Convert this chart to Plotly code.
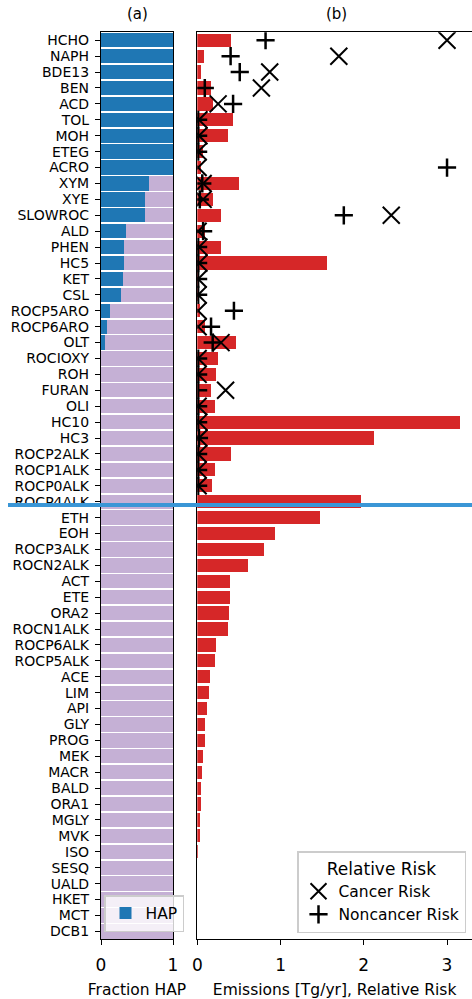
import plotly.graph_objects as go

species = ["HCHO", "NAPH", "BDE13", "BEN", "ACD", "TOL", "MOH", "ETEG", "ACRO", "XYM",
           "XYE", "SLOWROC", "ALD", "PHEN", "HC5", "KET", "CSL", "ROCP5ARO", "ROCP6ARO", "OLT",
           "ROCIOXY", "ROH", "FURAN", "OLI", "HC10", "HC3", "ROCP2ALK", "ROCP1ALK", "ROCP0ALK", "ROCP4ALK",
           "ETH", "EOH", "ROCP3ALK", "ROCN2ALK", "ACT", "ETE", "ORA2", "ROCN1ALK", "ROCP6ALK", "ROCP5ALK",
           "ACE", "LIM", "API", "GLY", "PROG", "MEK", "MACR", "BALD", "ORA1", "MGLY",
           "MVK", "ISO", "SESQ", "UALD", "HKET", "MCT", "DCB1"]

fraction_hap = [1.0, 1.0, 1.0, 1.0, 1.0, 1.0, 1.0, 1.0, 1.0, 0.67,
                0.61, 0.61, 0.35, 0.32, 0.32, 0.30, 0.28, 0.12, 0.08, 0.05,
                0, 0, 0, 0, 0, 0, 0, 0, 0, 0,
                0, 0, 0, 0, 0, 0, 0, 0, 0, 0,
                0, 0, 0, 0, 0, 0, 0, 0, 0, 0,
                0, 0, 0, 0, 0, 0, 0]

emissions = [0.41, 0.084, 0.044, 0.17, 0.19, 0.43, 0.37, 0.07, 0.05, 0.50,
             0.19, 0.29, 0.09, 0.28, 1.56, 0.015, 0.015, 0.03, 0.09, 0.47,
             0.25, 0.23, 0.17, 0.21, 3.15, 2.12, 0.40, 0.21, 0.18, 1.97,
             1.47, 0.93, 0.80, 0.61, 0.39, 0.39, 0.38, 0.37, 0.22, 0.21,
             0.156, 0.144, 0.112, 0.096, 0.088, 0.072, 0.056, 0.048, 0.04, 0.032,
             0.028, 0.005, 0.0, 0.0, 0.0, 0.0, 0.0]

N = None
cancer_risk = [3.0, 1.70, 0.87, 0.77, 0.25, 0.02, 0.02, 0.01, 0.01, 0.07,
               0.07, 2.33, 0.01, 0.02, 0.02, 0.01, 0.01, 0.01, 0.01, 0.285,
               0.01, 0.01, 0.34, 0.01, 0.02, 0.02, 0.01, 0.01, 0.01, N,
               N, N, N, N, N, N, N, N, N, N,
               N, N, N, N, N, N, N, N, N, N,
               N, N, N, N, N, N, N]

noncancer_risk = [0.82, 0.40, 0.51, 0.09, 0.43, 0.01, 0.01, 0.01, 3.0, 0.06,
                  0.03, 1.76, 0.07, 0.01, 0.01, 0.01, 0.01, 0.44, 0.165, 0.185,
                  0.01, 0.01, 0.01, 0.01, 0.01, 0.02, 0.01, 0.01, 0.01, N,
                  N, N, N, N, N, N, N, N, N, N,
                  N, N, N, N, N, N, N, N, N, N,
                  N, N, N, N, N, N, N]

non_hap = [1 - f for f in fraction_hap]

W, H = 472, 999
FONT = "DejaVu Sans"

fig = go.Figure()

fig.add_trace(go.Bar(y=species, x=fraction_hap, orientation="h", name="HAP",
                     marker=dict(color="#1f77b4", line=dict(width=0)), width=0.9,
                     xaxis="x", yaxis="y", legend="legend2", showlegend=True))
fig.add_trace(go.Bar(y=species, x=non_hap, orientation="h", name="non-HAP",
                     marker=dict(color="#c5b0d5", line=dict(width=0)), width=0.9,
                     xaxis="x", yaxis="y", showlegend=False))

fig.add_trace(go.Bar(y=species, x=emissions, orientation="h", name="Emissions",
                     marker=dict(color="#d62728", line=dict(width=0)), width=0.83,
                     xaxis="x2", yaxis="y2", showlegend=False))

fig.add_trace(go.Scatter(y=species, x=cancer_risk, mode="markers", name="Cancer Risk",
                         marker=dict(symbol="x-thin", size=17, color="black",
                                     line=dict(width=2, color="black")),
                         xaxis="x2", yaxis="y2", legend="legend", cliponaxis=True))
fig.add_trace(go.Scatter(y=species, x=noncancer_risk, mode="markers", name="Noncancer Risk",
                         marker=dict(symbol="cross-thin", size=13, color="black",
                                     line=dict(width=2.5, color="black")),
                         xaxis="x2", yaxis="y2", legend="legend", cliponaxis=True))

ydom = [1 - 939.3 / H, 1 - 32.3 / H]

fig.update_layout(
    width=W, height=H,
    margin=dict(l=0, r=0, t=0, b=0, autoexpand=False),
    paper_bgcolor="white", plot_bgcolor="white",
    font=dict(family=FONT, size=14, color="black"),
    barmode="stack",
    bargap=0.1,
    xaxis=dict(domain=[101 / W, 173 / W], range=[0, 1], tickvals=[0, 1],
               showline=True, mirror=True, linecolor="black", linewidth=1.3,
               ticks="outside", ticklen=5, tickcolor="black", showgrid=False, zeroline=False,
               tickfont=dict(size=17), automargin=False, ticklabelstandoff=5,
               title=dict(text="Fraction HAP", font=dict(size=15.5), standoff=12),
               anchor="y", fixedrange=True),
    yaxis=dict(domain=ydom, type="category", categoryorder="array", categoryarray=species,
               tickmode="array", tickvals=species, ticktext=species,
               range=[56.5, -0.5], showline=True, mirror=True, linecolor="black", linewidth=1.3,
               ticks="outside", ticklen=5, tickcolor="black", showgrid=False, zeroline=False,
               tickfont=dict(size=14), automargin=False, ticklabelstandoff=3,
               anchor="x", fixedrange=True),
    xaxis2=dict(domain=[197.3 / W, 1.0], range=[0, 3.3], tickvals=[0, 1, 2, 3],
                showline=True, mirror=True, linecolor="black", linewidth=1.3,
                ticks="outside", ticklen=5, tickcolor="black", showgrid=False, zeroline=False,
                tickfont=dict(size=17), automargin=False, ticklabelstandoff=5,
                title=dict(text="Emissions [Tg/yr], Relative Risk", font=dict(size=15.5), standoff=12),
                anchor="y2", fixedrange=True),
    yaxis2=dict(domain=ydom, type="category", categoryorder="array", categoryarray=species,
                range=[56.5, -0.5], showline=True, mirror=False, linecolor="black", linewidth=1.3,
                ticks="", showticklabels=False, showgrid=False, zeroline=False,
                automargin=False, anchor="x2", fixedrange=True),
    legend=dict(title=dict(text="Relative Risk", side="top center", font=dict(size=17)),
                font=dict(size=15.5), x=466 / W, y=1 - 933 / H, xanchor="right", yanchor="bottom",
                bgcolor="rgba(255,255,255,0.85)", bordercolor="#cccccc", borderwidth=1.5,
                tracegroupgap=0, itemsizing="trace", traceorder="normal"),
    legend2=dict(font=dict(size=15.5), x=104 / W, y=1 - 932 / H, xanchor="left", yanchor="bottom",
                 bgcolor="rgba(255,255,255,0.8)", bordercolor="#cccccc", borderwidth=1.5,
                 itemwidth=30, traceorder="normal"),
    annotations=[
        dict(text="(a)", x=137 / W, y=1 - 14 / H, xref="paper", yref="paper",
             showarrow=False, font=dict(size=15), xanchor="center", yanchor="middle"),
        dict(text="(b)", x=336 / W, y=1 - 14 / H, xref="paper", yref="paper",
             showarrow=False, font=dict(size=15), xanchor="center", yanchor="middle"),
    ],
    shapes=[
        dict(type="line", xref="paper", yref="y", x0=8 / W, x1=1.0, y0=29.2, y1=29.2,
             line=dict(color="#3a96d6", width=4), layer="above"),
    ],
)

fig.write_html("out.html", config={"displayModeBar": False},
               post_script="document.body.style.margin='0px';")
